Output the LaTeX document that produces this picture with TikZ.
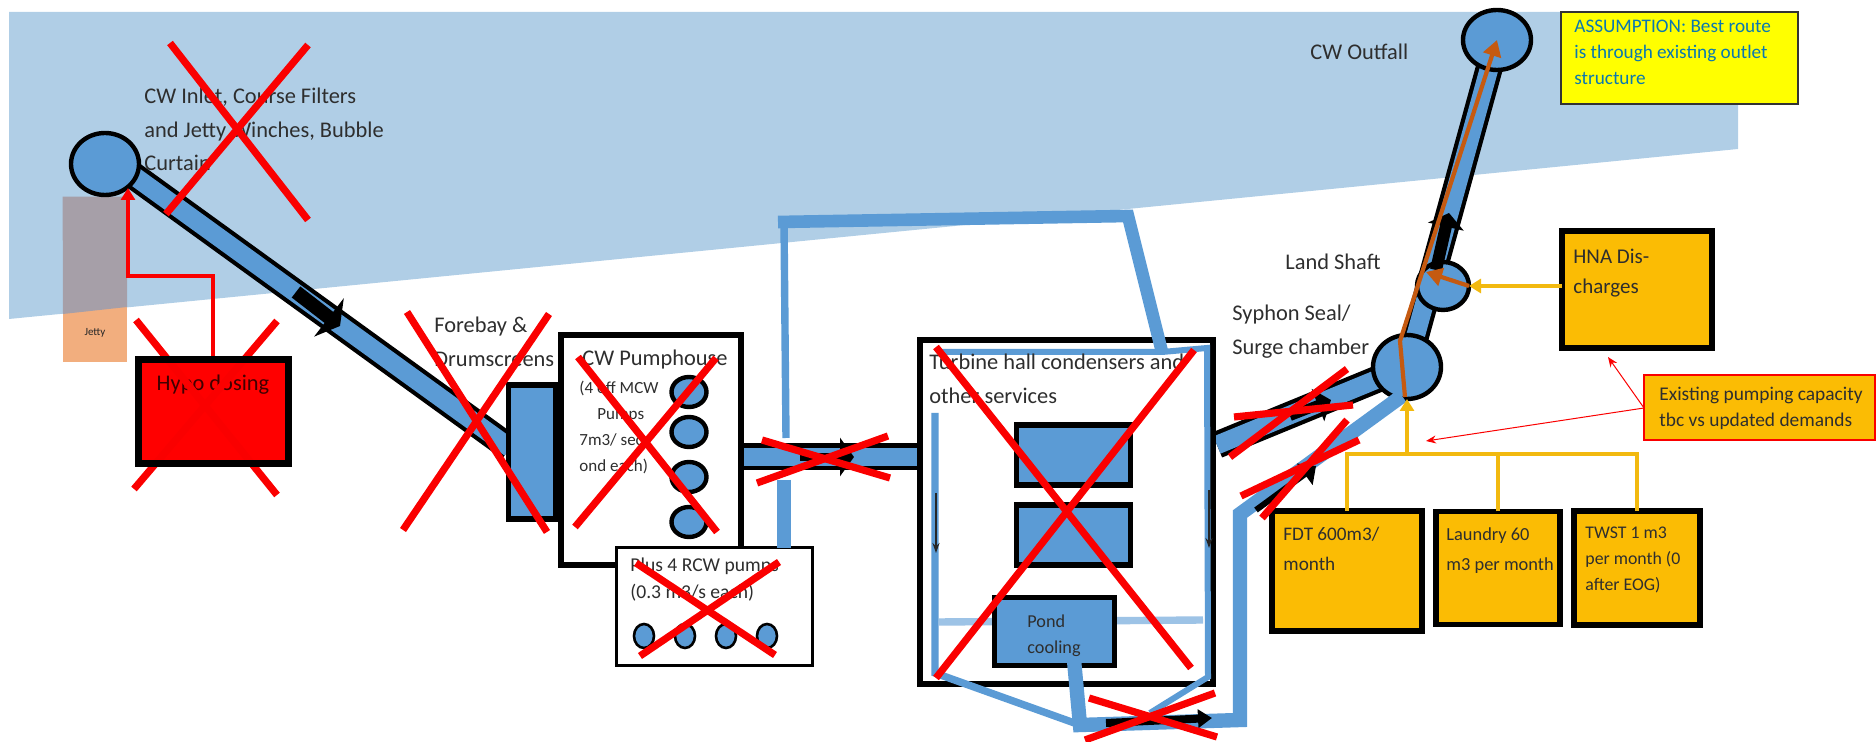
\documentclass[tikz,border=0pt]{standalone}
\usepackage{fontspec}
\setmainfont{Carlito}
\usetikzlibrary{arrows.meta,shapes.geometric}
\definecolor{seablue}{HTML}{B0CEE6}
\definecolor{pipeblue}{HTML}{5B9BD5}
\definecolor{paleblue}{HTML}{9DC3E6}
\definecolor{tankamber}{HTML}{FBBC04}
\definecolor{routebrown}{HTML}{C55A11}
\definecolor{feedamber}{HTML}{F2B90F}
\definecolor{jettyorange}{HTML}{F2AE7E}
\definecolor{jettygrey}{HTML}{A69FA8}
\definecolor{crossred}{HTML}{FA0000}
\definecolor{notetext}{HTML}{0A78B0}
\definecolor{noteyellow}{HTML}{FFFF00}
\definecolor{hypored}{HTML}{FF0000}

\begin{document}
\begin{tikzpicture}[x=0.5pt, y=-0.5pt,
  caption/.style={anchor=north west, inner sep=0pt, align=left, text=black!82,
    font=\fontsize{11.2}{16.6}\selectfont},
  smallcaption/.style={caption, font=\fontsize{8.5}{13}\selectfont},
  tankbox/.style={draw=black, fill=pipeblue, line width=2.8pt, outer sep=0pt, inner sep=0pt},
  whitebox/.style={draw=black, fill=white, line width=3.4pt, outer sep=0pt, inner sep=0pt},
  dischargebox/.style={draw=black, fill=tankamber, line width=2.6pt, outer sep=0pt, inner sep=0pt},
  chamber/.style={ellipse, draw=black, fill=pipeblue, line width=2.2pt, outer sep=0pt, inner sep=0pt},
  pumpdot/.style={chamber, minimum width=17.5pt, minimum height=15pt},
  rcwdot/.style={chamber, line width=1.3pt, minimum width=10pt, minimum height=12pt},
  pipecase/.style={draw=black, line width=13.5pt},
  pipecore/.style={draw=pipeblue, line width=9.3pt},
  coolline/.style={draw=pipeblue, line width=3.7pt, line cap=butt, line join=miter},
  flowmark/.style={draw=black, -{Triangle[length=7pt, width=#1]}},
  flowmark/.default=15pt,
  thinflow/.style={draw=black!85, line width=0.6pt, -{Stealth[length=5pt, width=3.5pt]}},
  feedline/.style={draw=feedamber, line width=1.7pt},
  feedarrow/.style={feedline, -{Triangle[length=6pt, width=7pt]}},
  routearrow/.style={draw=routebrown, line width=2.1pt, -{Triangle[length=8pt, width=9pt]}},
  noteline/.style={draw=crossred, line width=0.5pt, -{Stealth[length=5pt, width=4pt]}},
  crossline/.style={draw=crossred, line width=3.6pt}
]
\useasboundingbox (0,0) rectangle (1876,742);
\fill[seablue] (9,12) -- (1738,12) -- (1738,149) -- (9,319) -- cycle;

\node[fill=jettyorange, minimum width=32pt, minimum height=82.5pt, inner sep=0pt] (jetty) at (95,279.5) {};
\fill[jettygrey] (jetty.north west) -- (jetty.north east) -- (127,307) -- (63,314) -- cycle;
\node[font=\fontsize{5.5}{6}\selectfont, text=black!85, inner sep=0pt] (jetty-label) at (95,333) {Jetty};

\coordinate (inlet-tail) at (105,155);
\coordinate (forebay-head) at (510,448);
\coordinate (pump-out) at (741,457);
\coordinate (hall-in) at (920,457);
\coordinate (hall-out) at (1217,445);
\coordinate (surge-mid) at (1407,367);
\coordinate (outfall-mid) at (1497,40);
\coordinate (loop-start) at (778,222);
\coordinate (loop-a) at (784,222);
\coordinate (loop-b) at (1128,216);
\coordinate (loop-c) at (1162,352);
\coordinate (loop-d) at (939,352);
\coordinate (loop-e) at (1207,348);
\coordinate (gap-a) at (786,438);
\coordinate (gap-b) at (784,480);
\coordinate (gap-c) at (784,548);
\coordinate (hall-left-top) at (935,413);
\coordinate (hall-left) at (935,673);
\coordinate (hall-right) at (1208,677);
\coordinate (pond-out) at (1074,660);
\coordinate (low-a) at (1080,725);
\coordinate (low-b) at (1240,720);
\coordinate (low-c) at (1240,514);
\coordinate (low-d) at (1402,396);
\coordinate (low-e) at (1150,713);
\coordinate (pale-a) at (939,622);
\coordinate (pale-b) at (1203,620);

\foreach \a/\b in {inlet-tail/forebay-head,pump-out/hall-in,hall-out/surge-mid,surge-mid/outfall-mid}
  \draw[pipecase] (\a) -- (\b);
\foreach \a/\b in {inlet-tail/forebay-head,pump-out/hall-in,hall-out/surge-mid,surge-mid/outfall-mid}
  \draw[pipecore] (\a) -- (\b);
\node[chamber, minimum width=34pt, minimum height=31pt] (inlet) at (105,164) {};
\node[chamber, minimum width=34pt, minimum height=32pt] (surge) at (surge-mid) {};
\node[chamber, minimum width=34pt, minimum height=30pt] (outfall) at (outfall-mid) {};
\node[chamber, minimum width=26pt, minimum height=24pt] (landshaft) at (1443,286) {};

\node[tankbox, minimum width=23.5pt, minimum height=67pt] (forebay) at (532,452) {};
\node[whitebox, minimum width=90pt, minimum height=115pt] (pumphouse) at (651,450) {};
\node[whitebox, minimum width=146.5pt, minimum height=172pt] (hall) at (1066.5,512) {};
\foreach \n/\y in {pump-a/392,pump-b/432,pump-c/477,pump-d/522}
  \node[pumpdot] (\n) at (689,\y) {};
\node[draw=black, fill=white, line width=1.5pt, minimum width=98pt, minimum height=59pt, inner sep=0pt] (rcw) at (714,607) {};
\foreach \n/\x in {rcw-a/644,rcw-b/685,rcw-c/726,rcw-d/767}
  \node[rcwdot] (\n) at (\x,636) {};

\node[tankbox, minimum width=57pt, minimum height=30pt] (condenser-a) at (1073.5,455) {};
\node[tankbox, minimum width=57pt, minimum height=30pt] (condenser-b) at (1073.5,535) {};
\draw[coolline, draw=paleblue] (pale-a) -- (pale-b);
\node[tankbox, minimum width=60pt, minimum height=34pt] (pond) at (1054.5,631.5) {};

\draw[coolline, line width=6.3pt] (loop-start) -- (loop-b) -- (loop-c);
\draw[coolline] (loop-a) -- (gap-a);
\draw[coolline, line width=7.2pt] (gap-b) -- (gap-c);
\draw[coolline, line width=3pt] (loop-d) -- (loop-c) -- (loop-e) -- (hall-right) -- (low-e);
\draw[coolline] (hall-left-top) -- (hall-left) -- (low-a);
\draw[coolline, line width=7.2pt] (pond-out) -- (low-a) -- (low-b) -- (low-c) -- (low-d);

\draw[thinflow] (936,493) -- (936,553);
\draw[thinflow] (1209,490) -- (1209,548);
\draw[flowmark=24pt, line width=7pt] (296,292) -- (340,326);
\draw[flowmark=19pt, line width=4pt] (800,457) -- (854,457);
\draw[flowmark=9pt, line width=4pt] (1106,723) -- (1212,718);
\draw[flowmark=17pt, line width=5pt] (1290,416) -- (1331,400);
\draw[flowmark=13pt, line width=3pt] (1256,510) -- (1316,466);
\draw[flowmark=18pt, line width=6pt] (1436,270) -- (1449,213);

\draw[draw=crossred, line width=1.9pt, -{Triangle[length=6pt, width=7pt]}] (213,357) |- (128,276) -- (128,188);

\node[dischargebox, minimum width=75pt, minimum height=60pt] (fdt) at (1347,571) {};
\node[dischargebox, minimum width=62pt, minimum height=56.5pt] (laundry) at (1498,568) {};
\node[dischargebox, minimum width=63pt, minimum height=57pt] (twst) at (1637,568) {};
\node[dischargebox, minimum width=75pt, minimum height=58.5pt] (hna) at (1637,289.5) {};
\coordinate (bus-mid) at (1407,454);
\draw[feedline] (fdt.north) -- (fdt.north |- bus-mid) -- (twst.north |- bus-mid) -- (twst.north);
\draw[feedline] (laundry.north) -- (laundry.north |- bus-mid);
\draw[feedarrow] (bus-mid) -- (surge.south);
\draw[feedarrow] (hna.west |- landshaft.east) -- (landshaft.east);

\draw[routearrow] (1405,397) -- (1400,341) -- (outfall.center);
\draw[routearrow] (landshaft.east) -- (1426,272);

\node[draw=black!80, fill=noteyellow, line width=0.9pt, minimum width=118.5pt, minimum height=46pt, inner sep=0pt] (assumption) at (1679.5,58) {};
\node[draw=crossred, fill=tankamber, line width=1pt, minimum width=115.5pt, minimum height=32.5pt, inner sep=0pt, outer sep=0pt] (capacity) at (1759.5,408) {};
\coordinate (capacity-hna) at (1608,357);
\coordinate (capacity-bus) at (1426,441);
\draw[noteline] (capacity.west) -- (capacity-hna);
\draw[noteline] (capacity.west) -- (capacity-bus);

\node[caption] (inlet-label) at (144,88) {CW Inlet, Course Filters\\and Jetty Winches, Bubble\\Curtain};
\node[caption] (forebay-label) at (434,317) {Forebay \&\\Drumscreens};
\node[caption] (pumphouse-label) at (582,350) {CW Pumphouse};
\node[smallcaption] (mcw-label) at (579,381) {(4 off MCW\\\hspace{9pt}Pumps\\7m3/ sec\\ond each)};
\node[smallcaption, font=\fontsize{9.8}{13.7}\selectfont] (rcw-label) at (630,557) {Plus 4 RCW pumps\\(0.3 m3/s each)};
\node[caption] (hall-label) at (929,354) {Turbine hall condensers and\\other services};
\node[smallcaption, font=\fontsize{9.1}{13}\selectfont] (pond-label) at (1027,614) {Pond\\cooling};
\node[caption] (outfall-label) at (1310,44) {CW Outfall};
\node[caption] (shaft-label) at (1285,254) {Land Shaft};
\node[caption] (syphon-label) at (1232,305) {Syphon Seal/\\Surge chamber};
\node[caption, text=notetext, font=\fontsize{9.6}{12.9}\selectfont] (assumption-label) at (1574,20) {ASSUMPTION: Best route\\is through existing outlet\\structure};
\node[caption, font=\fontsize{9.7}{12.7}\selectfont] (capacity-label) at (1659,387) {Existing pumping capacity\\tbc vs updated demands};
\node[caption, font=\fontsize{10.5}{15}\selectfont] (hna-label) at (1573,249) {HNA Dis-\\charges};
\node[smallcaption, font=\fontsize{9.6}{15}\selectfont] (fdt-label) at (1283,527) {FDT 600m3/\\month};
\node[smallcaption, font=\fontsize{9.2}{15}\selectfont] (laundry-label) at (1446,527) {Laundry 60\\m3 per month};
\node[smallcaption, font=\fontsize{8.9}{13}\selectfont] (twst-label) at (1585,527) {TWST 1 m3\\per month (0\\after EOG)};

\node[fill=hypored, minimum width=75pt, minimum height=52pt, inner sep=0pt, outer sep=0pt] (hypo) at (213.5,411.5) {};
\node[caption, anchor=center, text=black!75!red] (hypo-label) at (213,385) {Hypo dosing};

\foreach \xa/\ya/\xb/\yb in {170/43/308/220,308/45/166/214,
    136/320/277/495,277/321/134/489,
    407/312/547/532,549/314/403/530,
    578/357/717/532,716/358/575/527,
    779/562/640/656,636/563/775/655,
    762/440/890/478,888/436/757/483,
    936/347/1191/668,1194/350/936/678,
    1089/698/1217/737,1215/693/1085/740,
    1234/417/1353/405,1347/369/1230/457,
    1241/496/1359/440,1347/420/1262/518}
  \draw[crossline] (\xa,\ya) -- (\xb,\yb);
\draw[black, line width=3.5pt] (hypo.north west) rectangle (hypo.south east);
\end{tikzpicture}
\end{document}
